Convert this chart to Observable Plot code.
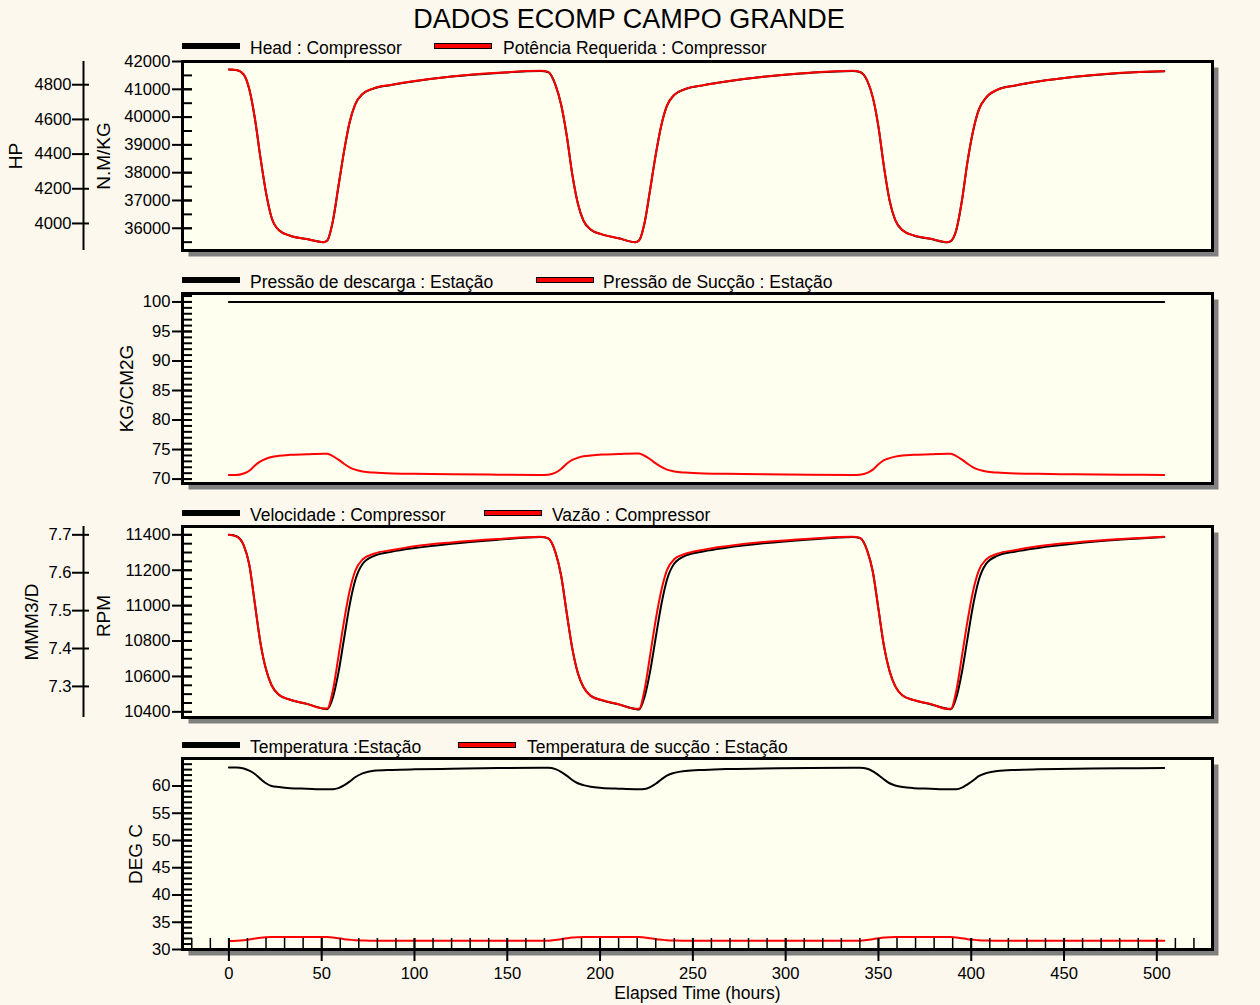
<!DOCTYPE html>
<html>
<head>
<meta charset="utf-8">
<script src="https://cdn.jsdelivr.net/npm/d3@7"></script>
<script src="https://cdn.jsdelivr.net/npm/@observablehq/plot@0.6"></script>
<style>
  html, body { margin: 0; padding: 0; background: #FCF8EE; }
  #chart { position: relative; width: 1260px; height: 1005px; background: #FCF8EE; overflow: hidden;
           font-family: "Liberation Sans", Arial, sans-serif; color: #000; }
  #chart svg { position: absolute; left: 0; top: 0; }
  .title { position: absolute; left: 0; width: 1258px; top: 3px; text-align: center; font-size: 27px; line-height: 32px; white-space: nowrap; }
  .lg { position: absolute; font-size: 17.5px; line-height: 20px; height: 20px; white-space: nowrap; }
  .sw { position: absolute; width: 58px; height: 6px; background: #000; box-sizing: border-box; }
  .sw.red { background: #FF0000; border: 1.5px solid #000; }
</style>
</head>
<body>
<div id="chart"></div>
<script>
// ---------------- DATA ----------------
const hours = [
  0,4,8,11,14,17,20,23,27,33,42,51,53,56,59,62,65,68,72,78,88,100,120,145,
  168,172,176,179,182,185,188,191,195,201,210,219,221,224,227,230,233,236,240,246,256,268,288,313,
  336,340,344,347,350,353,356,359,363,369,378,387,389,392,395,398,401,404,408,414,424,436,456,481,
  504
];
// Head : Compressor (N.M/KG)
const headNMKG = [
  41710,41690,41530,41000,39950,38540,37280,36380,35930,35730,35610,35500,35560,36250,37500,38750,39800,40450,40830,41030,41160,41290,41460,41590,
  41660,41620,41150,40450,39350,37950,36900,36280,35950,35780,35640,35500,35560,36200,37400,38650,39700,40400,40800,41010,41150,41280,41450,41590,
  41660,41620,41300,40700,39650,38200,37000,36300,35930,35740,35620,35500,35540,35950,37000,38400,39500,40250,40700,40980,41140,41280,41450,41590,
  41650
];
// Potência Requerida : Compressor (HP)
const potenciaHP = [
  4888,4885,4859,4774,4606,4380,4178,4034,3961,3929,3910,3892,3902,4013,4213,4413,4582,4686,4747,4779,4800,4821,4848,4869,
  4880,4874,4798,4686,4510,4285,4117,4018,3965,3937,3915,3892,3902,4005,4197,4397,4566,4678,4742,4776,4798,4819,4846,4869,
  4880,4874,4822,4726,4558,4325,4133,4021,3961,3931,3912,3892,3899,3965,4133,4357,4534,4654,4726,4771,4797,4819,4846,4869,
  4878
];
// Pressão de descarga : Estação (KG/CM2G)
const descargaHours = [0, 504];
const pressaoDescarga = [100, 100];
// Pressão de Sucção : Estação (KG/CM2G)
const pressaoSuccao = [
  70.7,70.7,70.95,71.4,72.3,73.0,73.45,73.75,73.95,74.1,74.2,74.3,74.3,73.9,73.3,72.6,72.0,71.6,71.3,71.1,70.95,70.9,70.8,70.75,
  70.7,70.75,71.1,71.7,72.6,73.25,73.6,73.85,74.0,74.15,74.25,74.35,74.35,73.95,73.35,72.65,72.05,71.6,71.3,71.1,70.95,70.9,70.8,70.75,
  70.7,70.75,71.05,71.6,72.5,73.2,73.55,73.8,74.0,74.1,74.2,74.3,74.3,73.9,73.3,72.6,72.0,71.6,71.3,71.1,70.95,70.9,70.8,70.75,
  70.7
];
// Velocidade : Compressor (RPM)
const velocidadeRPM = [
  11400,11392,11340,11230,11010,10790,10640,10550,10495,10468,10445,10418,10415,10480,10620,10810,11000,11140,11235,11280,11305,11325,11350,11372,
  11388,11380,11300,11170,10960,10760,10620,10540,10490,10465,10442,10416,10413,10485,10630,10820,11005,11145,11238,11282,11307,11327,11352,11374,
  11388,11382,11310,11190,10980,10770,10630,10545,10492,10466,10443,10417,10414,10482,10625,10815,11002,11142,11236,11281,11306,11326,11351,11373,
  11388
];
// Vazão : Compressor (MMM3/D)
const vazaoMMM3D = [
  7.700,7.696,7.672,7.621,7.518,7.415,7.345,7.303,7.278,7.265,7.254,7.242,7.242,7.289,7.378,7.471,7.551,7.604,7.635,7.650,7.660,7.670,7.680,7.689,
  7.695,7.691,7.653,7.593,7.495,7.401,7.336,7.299,7.275,7.264,7.253,7.241,7.241,7.292,7.383,7.476,7.553,7.606,7.636,7.650,7.661,7.670,7.681,7.690,
  7.695,7.692,7.657,7.602,7.504,7.406,7.340,7.301,7.276,7.264,7.254,7.241,7.241,7.290,7.380,7.473,7.552,7.605,7.635,7.650,7.660,7.670,7.680,7.689,
  7.695
];
// Temperatura : Estação (DEG C)
const temperaturaEstacao = [
  63.4,63.4,63.2,62.8,62.2,61.3,60.5,60.0,59.8,59.6,59.5,59.4,59.4,59.4,59.6,60.1,60.8,61.6,62.3,62.8,62.95,63.05,63.15,63.3,
  63.35,63.35,63.1,62.6,61.9,61.1,60.5,60.15,59.85,59.65,59.5,59.4,59.4,59.45,59.8,60.4,61.2,61.9,62.4,62.75,62.95,63.1,63.2,63.3,
  63.35,63.35,63.15,62.7,62.0,61.2,60.5,60.1,59.8,59.6,59.5,59.4,59.4,59.4,59.7,60.3,61.0,61.8,62.35,62.75,62.95,63.05,63.15,63.25,
  63.3
];
// Temperatura de sucção : Estação (DEG C)
const temperaturaSuccao = [
  31.55,31.6,31.7,31.85,32.0,32.15,32.25,32.3,32.3,32.3,32.3,32.3,32.28,32.2,32.05,31.9,31.8,31.7,31.65,31.6,31.6,31.6,31.6,31.6,
  31.6,31.62,31.75,31.9,32.05,32.18,32.25,32.3,32.3,32.3,32.3,32.3,32.28,32.2,32.05,31.9,31.8,31.7,31.65,31.62,31.6,31.6,31.6,31.6,
  31.6,31.62,31.75,31.9,32.05,32.18,32.25,32.3,32.3,32.3,32.3,32.3,32.28,32.2,32.05,31.9,31.8,31.7,31.65,31.62,31.6,31.6,31.6,31.6,
  31.6
];

// tick labels
const headTicks = [36000, 37000, 38000, 39000, 40000, 41000, 42000];
const hpTicks = [4000, 4200, 4400, 4600, 4800];
const pressureTicks = [70, 75, 80, 85, 90, 95, 100];
const rpmTicks = [10400, 10600, 10800, 11000, 11200, 11400];
const flowTicks = [7.3, 7.4, 7.5, 7.6, 7.7];
const tempTicks = [30, 35, 40, 45, 50, 55, 60];
const timeTicks = [0, 50, 100, 150, 200, 250, 300, 350, 400, 450, 500];

// ---------------- LAYOUT ----------------
const W = 1260, H = 1005, ML = 182, MR = 48;
const xDomain = [-25, 530];
const FONT = '"Liberation Sans", Arial, sans-serif';
const BLACK = "#000000", RED = "#FF0000";

const rows = (xs, ys) => xs.map((h, i) => ({h, v: ys[i]}));
const fmt = d => String(d);

function layer(top, bottom, yDomain, marks, xAxis = false) {
  return Plot.plot({
    width: W, height: H,
    marginLeft: ML, marginRight: MR, marginTop: top, marginBottom: H - bottom,
    x: xAxis ? {domain: xDomain, label: null} : {domain: xDomain, axis: null, label: null},
    y: {domain: yDomain, label: null},
    style: {background: "transparent", fontFamily: FONT, fontSize: "16.6px", color: "#000", overflow: "visible"},
    marks
  });
}
function panelBase() {
  return [
    Plot.frame({fill: "#808080", stroke: "none", dx: 6, dy: 6}),
    Plot.frame({fill: "#FFFFF0", stroke: "none"})
  ];
}
function primaryAxis(major, minor) {
  return [
    Plot.axisY(minor, {anchor: "left", tickSize: 10, dx: 10, strokeWidth: 2, tickFormat: () => "", label: null}),
    Plot.axisY(major, {anchor: "left", tickSize: 20, dx: 10, tickPadding: 2, strokeWidth: 2, tickFormat: fmt, label: null})
  ];
}
function secondaryAxis(ticks, fmtFn) {
  const axisX = 83;
  const center = (ML + W - MR) / 2;
  return [
    Plot.ruleX([0], {x: null, dx: axisX - center, strokeWidth: 2}),
    Plot.axisY(ticks, {anchor: "left", tickSize: 17, dx: axisX + 6 - ML, tickPadding: 1, strokeWidth: 2, tickFormat: fmtFn, label: null})
  ];
}
function vLabel(text, xCenter, dy = 0) {
  return Plot.text([text], {frameAnchor: "left", rotate: -90, dx: xCenter - ML, dy, text: d => d, fontSize: 19, lineAnchor: "middle", textAnchor: "middle"});
}
const border = () => Plot.frame({stroke: "#000", strokeWidth: 3});
const line = (data, color) => Plot.line(data, {x: "h", y: "v", stroke: color, strokeWidth: 2, curve: "monotone-x"});

const chart = document.getElementById("chart");

// Panel 1: Head / Potência
const P1 = {top: 61, bottom: 250};
chart.append(layer(P1.top, P1.bottom, [35200, 42000], [
  ...panelBase(),
  line(rows(hours, headNMKG), BLACK),
  ...primaryAxis(headTicks, d3.range(35500, 42001, 500)),
  border(),
  vLabel("N.M/KG", 103)
]));
chart.append(layer(P1.top, P1.bottom, [3844, 4934], [
  line(rows(hours, potenciaHP), RED),
  ...secondaryAxis(hpTicks, fmt),
  vLabel("HP", 15)
]));

// Panel 2: Pressões
const P2 = {top: 293, bottom: 483};
chart.append(layer(P2.top, P2.bottom, [69.25, 101.43], [
  ...panelBase(),
  line(rows(descargaHours, pressaoDescarga), BLACK),
  line(rows(hours, pressaoSuccao), RED),
  ...primaryAxis(pressureTicks, d3.range(70, 102, 1)),
  border(),
  vLabel("KG/CM2G", 126)
]));

// Panel 3: Velocidade / Vazão
const P3 = {top: 526, bottom: 717};
chart.append(layer(P3.top, P3.bottom, [10368, 11447], [
  ...panelBase(),
  line(rows(hours, velocidadeRPM), BLACK),
  ...primaryAxis(rpmTicks, d3.range(10400, 11401, 50)),
  border(),
  vLabel("RPM", 103, -6)
]));
chart.append(layer(P3.top, P3.bottom, [7.218, 7.722], [
  line(rows(hours, vazaoMMM3D), RED),
  ...secondaryAxis(flowTicks, d => d.toFixed(1)),
  vLabel("MMM3/D", 31)
]));

// Panel 4: Temperaturas
const P4 = {top: 758, bottom: 949};
chart.append(layer(P4.top, P4.bottom, [30, 65.04], [
  ...panelBase(),
  line(rows(hours, temperaturaEstacao), BLACK),
  line(rows(hours, temperaturaSuccao), RED),
  ...primaryAxis(tempTicks, d3.range(30, 65, 1)),
  Plot.axisX(d3.range(-20, 521, 10), {anchor: "bottom", tickSize: 11, dy: -11, strokeWidth: 1.5, tickFormat: () => "", label: null}),
  Plot.axisX(timeTicks, {anchor: "bottom", tickSize: 23, dy: -11, tickPadding: 6, strokeWidth: 2, tickFormat: fmt, label: null}),
  border(),
  vLabel("DEG C", 135),
  Plot.text(["Elapsed Time (hours)"], {frameAnchor: "bottom", dy: 49, lineAnchor: "bottom", text: d => d, fontSize: 17.5})
], true));

// ---------------- TITLE & LEGENDS ----------------
const title = document.createElement("div");
title.className = "title";
title.textContent = "DADOS ECOMP CAMPO GRANDE";
chart.append(title);

const legends = [
  {cy: 46, base: 54, items: [{x: 182, tx: 250, red: false, label: "Head : Compressor"}, {x: 434, tx: 503, red: true, label: "Potência Requerida : Compressor"}]},
  {cy: 280, base: 288, items: [{x: 182, tx: 250, red: false, label: "Pressão de descarga : Estação"}, {x: 536, tx: 603, red: true, label: "Pressão de Sucção : Estação"}]},
  {cy: 513, base: 521, items: [{x: 182, tx: 250, red: false, label: "Velocidade : Compressor"}, {x: 484, tx: 552, red: true, label: "Vazão : Compressor"}]},
  {cy: 745, base: 753, items: [{x: 182, tx: 250, red: false, label: "Temperatura :Estação"}, {x: 458, tx: 527, red: true, label: "Temperatura de sucção : Estação"}]}
];
for (const lg of legends) {
  for (const it of lg.items) {
    const sw = document.createElement("div");
    sw.className = "sw" + (it.red ? " red" : "");
    sw.style.left = it.x + "px";
    sw.style.top = (lg.cy - 3) + "px";
    chart.append(sw);
    const t = document.createElement("div");
    t.className = "lg";
    t.style.left = it.tx + "px";
    t.style.top = (lg.base - 16) + "px";
    t.textContent = it.label;
    chart.append(t);
  }
}
</script>
</body>
</html>
